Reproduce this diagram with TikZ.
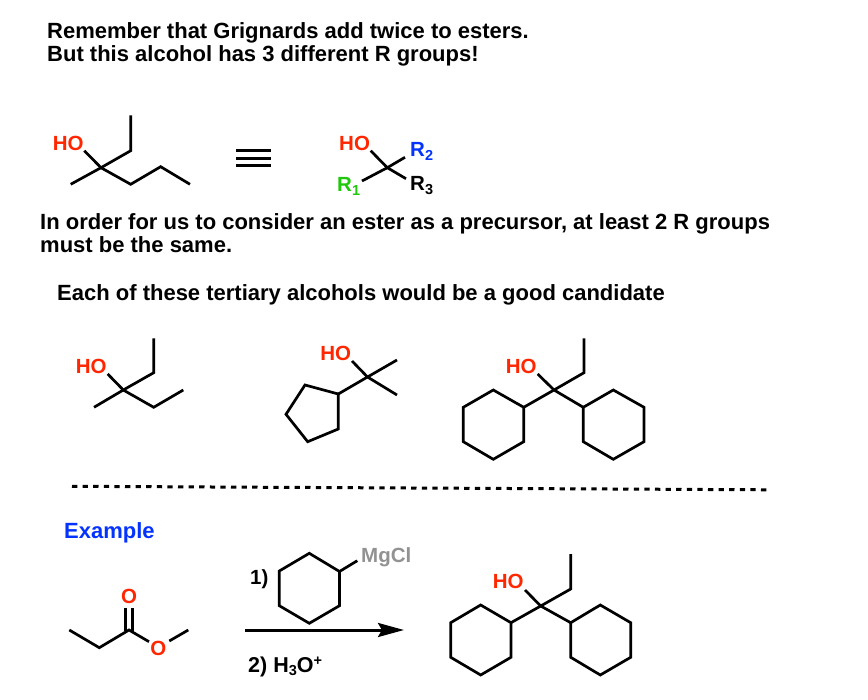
\documentclass[tikz,border=0pt]{standalone}
\usepackage{fontspec}
\setmainfont{Liberation Sans}
\usetikzlibrary{arrows.meta}
\definecolor{hored}{RGB}{255,38,0}
\definecolor{rblue}{RGB}{4,51,255}
\definecolor{rgreen}{RGB}{30,200,10}
\definecolor{mggray}{RGB}{146,146,146}
\tikzset{
  x=1pt,y=-1pt,
  bond/.style={draw=black,line width=2.7pt,line join=miter,line cap=butt},
  txt/.style={inner sep=0pt,anchor=base west,font=\fontsize{20.5}{24}\selectfont\bfseries,text=black},
  bigtxt/.style={txt,font=\fontsize{22}{26}\selectfont\bfseries},
  atom/.style={inner sep=0pt,anchor=center,font=\fontsize{20.5}{24}\selectfont\bfseries},
  oh/.style={atom,text=hored},
}
\newcommand{\sbs}[1]{\raisebox{-3.5pt}{\fontsize{14.5}{16}\selectfont #1}}
\newcommand{\sps}[1]{\raisebox{7pt}{\fontsize{14.5}{16}\selectfont #1}}
\begin{document}
\begin{tikzpicture}
\useasboundingbox (0,0) rectangle (868,700);
% headline text
\node[bigtxt] (t1) at (47,39) {Remember that Grignards add twice to esters.};
\node[bigtxt] (t2) at (47,62) {But this alcohol has 3 different R groups!};
\node[bigtxt] (t3) at (40,230) {In order for us to consider an ester as a precursor, at least 2 R groups};
\node[bigtxt] (t4) at (40,253) {must be the same.};
\node[bigtxt] (t5) at (57,301) {Each of these tertiary alcohols would be a good candidate};
\node[bigtxt,text=rblue] (t6) at (64,538) {Example};
% molecule 1
\node[oh] (ho1) at (68.3,143.3) {HO};
\coordinate (o1) at (84.3,150.7);
\coordinate (c1) at (101,167.7);
\coordinate (a1) at (130.7,150.7);
\coordinate (a2) at (130.7,115.3);
\coordinate (m1) at (70.7,184.3);
\coordinate (p1) at (130.7,184.3);
\coordinate (p2) at (160.7,166.7);
\coordinate (p3) at (190,184.3);
\draw[bond] (o1) -- (c1);
\draw[bond] (m1) -- (c1) -- (a1) -- (a2);
\draw[bond] (c1) -- (p1) -- (p2) -- (p3);
% equivalence bars
\coordinate (e1l) at (236,150.7); \coordinate (e1r) at (270.7,150.7);
\coordinate (e2l) at (236,158.3); \coordinate (e2r) at (270.7,158.3);
\coordinate (e3l) at (236,165.7); \coordinate (e3r) at (270.7,165.7);
\draw[bond] (e1l) -- (e1r);
\draw[bond] (e2l) -- (e2r);
\draw[bond] (e3l) -- (e3r);
% generic alcohol
\node[oh] (ho2) at (354.6,143.3) {HO};
\node[txt,text=rblue] (r2) at (410,157) {R\sbs{2}};
\node[txt] (r3) at (410,191) {R\sbs{3}};
\node[txt,text=rgreen] (r1) at (337,192) {R\sbs{1}};
\coordinate (gc) at (387.3,167.7);
\coordinate (go) at (370.7,150.7);
\coordinate (gr1) at (362,181);
\coordinate (gr2) at (405,157.3);
\coordinate (gr3) at (406,178.7);
\draw[bond] (go) -- (gc);
\draw[bond] (gr1) -- (gc) -- (gr2);
\draw[bond] (gc) -- (gr3);
% molecule 2
\node[oh] (ho3) at (91.2,366) {HO};
\coordinate (bo) at (107.7,374);
\coordinate (bc) at (123.3,390);
\coordinate (bu) at (153.7,372.7);
\coordinate (bt) at (153.7,338.3);
\coordinate (bm) at (94,407.3);
\coordinate (bd) at (153.7,407.3);
\coordinate (be) at (183.3,390);
\draw[bond] (bo) -- (bc);
\draw[bond] (bm) -- (bc) -- (bu) -- (bt);
\draw[bond] (bc) -- (bd) -- (be);
% molecule 3
\node[oh] (ho4) at (335.8,353.3) {HO};
\coordinate (co) at (352,361);
\coordinate (cc) at (367.5,377);
\coordinate (cm1) at (397,360);
\coordinate (cm2) at (397,395);
\coordinate (r51) at (338.3,394);
\coordinate (r52) at (305,385);
\coordinate (r53) at (286,414.3);
\coordinate (r54) at (307.7,441.7);
\coordinate (r55) at (338.3,429);
\draw[bond] (co) -- (cc);
\draw[bond] (cm1) -- (cc) -- (cm2);
\draw[bond] (cc) -- (r51);
\draw[bond] (r51) -- (r52) -- (r53) -- (r54) -- (r55) -- cycle;
% molecule 4
\node[oh] (ho5) at (521.3,366) {HO};
\coordinate (do) at (537.7,374);
\coordinate (dc) at (554,390);
\coordinate (du) at (584,372.7);
\coordinate (dt) at (584,338.3);
\coordinate (dl1) at (523.7,407.3);
\coordinate (dl2) at (493.3,390);
\coordinate (dl3) at (463.3,407.3);
\coordinate (dl4) at (463.3,441.7);
\coordinate (dl5) at (493.3,459.3);
\coordinate (dl6) at (523.7,441.7);
\coordinate (dr1) at (583.3,407.3);
\coordinate (dr2) at (613.3,390);
\coordinate (dr3) at (644,407.3);
\coordinate (dr4) at (644,441.7);
\coordinate (dr5) at (613.3,459.3);
\coordinate (dr6) at (583.3,441.7);
\draw[bond] (do) -- (dc);
\draw[bond] (dc) -- (du) -- (dt);
\draw[bond] (dc) -- (dl1);
\draw[bond] (dc) -- (dr1);
\draw[bond] (dl1) -- (dl2) -- (dl3) -- (dl4) -- (dl5) -- (dl6) -- cycle;
\draw[bond] (dr1) -- (dr2) -- (dr3) -- (dr4) -- (dr5) -- (dr6) -- cycle;
% dashed separator
\coordinate (dsl) at (72,486.3);
\coordinate (dsr) at (768,489.8);
\draw[line width=3pt,dash pattern=on 5.3pt off 5.3pt] (dsl) -- (dsr);
% ester
\node[atom,text=hored] (eo1) at (129,596.7) {O};
\node[atom,text=hored] (eo2) at (158.3,648.3) {O};
\coordinate (e1) at (69.3,630);
\coordinate (e2) at (99.3,647.7);
\coordinate (e3) at (129,630);
\coordinate (e3a) at (125.3,631);
\coordinate (e3b) at (132.7,631);
\coordinate (e4a) at (125.3,608);
\coordinate (e4b) at (132.7,608);
\coordinate (e5) at (149,641.7);
\coordinate (e6) at (169.3,641);
\coordinate (e7) at (188.3,630);
\draw[bond] (e1) -- (e2) -- (e3) -- (e5);
\draw[bond] (e3a) -- (e4a);
\draw[bond] (e3b) -- (e4b);
\draw[bond] (e6) -- (e7);
% reaction arrow
\coordinate (al) at (245,630);
\coordinate (ar) at (404,630);
\draw[line width=3pt,-{Stealth[length=26pt,width=14pt,inset=4pt]}] (al) -- (ar);
\node[txt] (s1) at (250,584) {1)};
\node[txt,font=\fontsize{21.5}{24}\selectfont\bfseries] (s2) at (248,672) {2) H\sbs{3}O\sps{+}};
% Grignard
\node[txt,text=mggray] (mg) at (361,562.5) {MgCl};
\coordinate (g1) at (339.5,571.5);
\coordinate (g2) at (309.3,553.3);
\coordinate (g3) at (279.3,571);
\coordinate (g4) at (279.3,605.7);
\coordinate (g5) at (309.3,623.3);
\coordinate (g6) at (339.5,605.7);
\coordinate (g7) at (357.3,560.7);
\draw[bond] (g1) -- (g2) -- (g3) -- (g4) -- (g5) -- (g6) -- cycle;
\draw[bond] (g1) -- (g7);
% product
\node[oh] (ho6) at (508.3,581.7) {HO};
\coordinate (fo) at (525,590);
\coordinate (fc) at (540.7,606);
\coordinate (fu) at (570.7,589);
\coordinate (ft) at (570.7,554);
\coordinate (fl1) at (511,622.7);
\coordinate (fl2) at (480.7,605);
\coordinate (fl3) at (450.7,622.7);
\coordinate (fl4) at (450.7,657.3);
\coordinate (fl5) at (480.7,675);
\coordinate (fl6) at (511,657.3);
\coordinate (fr1) at (570.7,622.7);
\coordinate (fr2) at (600.3,605);
\coordinate (fr3) at (630.7,622.7);
\coordinate (fr4) at (630.7,657.3);
\coordinate (fr5) at (600.3,675);
\coordinate (fr6) at (570.7,657.3);
\draw[bond] (fo) -- (fc);
\draw[bond] (fc) -- (fu) -- (ft);
\draw[bond] (fc) -- (fl1);
\draw[bond] (fc) -- (fr1);
\draw[bond] (fl1) -- (fl2) -- (fl3) -- (fl4) -- (fl5) -- (fl6) -- cycle;
\draw[bond] (fr1) -- (fr2) -- (fr3) -- (fr4) -- (fr5) -- (fr6) -- cycle;
\end{tikzpicture}
\end{document}
